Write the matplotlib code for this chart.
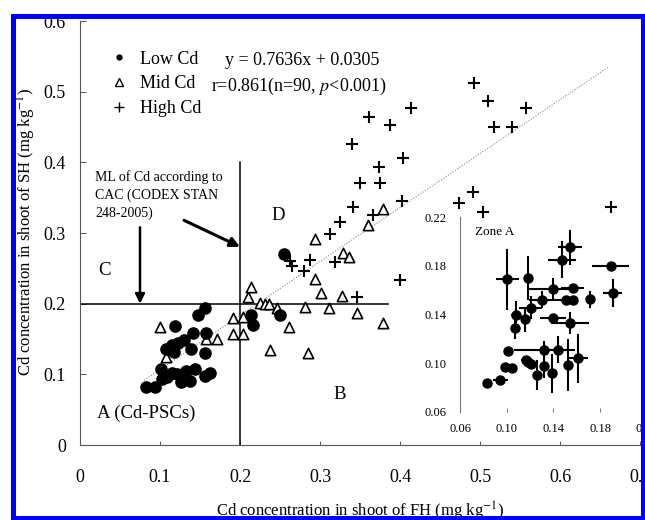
import matplotlib
matplotlib.use("Agg")
import matplotlib.pyplot as plt
from matplotlib.lines import Line2D
from matplotlib.patches import Rectangle

plt.rcParams["font.family"] = ["Liberation Serif", "DejaVu Serif"]
plt.rcParams["mathtext.fontset"] = "stix"

# ── data (mg kg-1) ─────────────────────────────────────────────────────────────
low_x = [0.0825, 0.0938, 0.102, 0.101, 0.1146, 0.1208, 0.1258, 0.1325, 0.1375,
         0.1438, 0.1563, 0.1625, 0.109, 0.1075, 0.1146, 0.118, 0.123, 0.1304,
         0.1388, 0.1408, 0.1563, 0.1575, 0.1188, 0.148, 0.1563, 0.2138, 0.2167,
         0.25, 0.255]
low_y = [0.0816, 0.0816, 0.0929, 0.1075, 0.1023, 0.1004, 0.0896, 0.1051, 0.091,
         0.1075, 0.0976, 0.1023, 0.096, 0.1353, 0.1414, 0.132, 0.1447, 0.1485,
         0.1358, 0.1589, 0.1306, 0.158, 0.1683, 0.1839, 0.1933, 0.1839, 0.1697,
         0.1839, 0.2702]

mid_x = [0.1, 0.1075, 0.1575, 0.1717, 0.1908, 0.1917, 0.2033, 0.2042, 0.2096,
         0.2133, 0.225, 0.2313, 0.2367, 0.2458, 0.2617, 0.2375, 0.2817, 0.2854,
         0.294, 0.2938, 0.3008, 0.3117, 0.327, 0.329, 0.3367, 0.3467, 0.3604,
         0.379, 0.379]
mid_y = [0.1673, 0.1249, 0.150, 0.150, 0.1792, 0.1566, 0.157, 0.1815, 0.2089,
         0.223, 0.2004, 0.2, 0.2, 0.1933, 0.1665, 0.1344, 0.1947, 0.1297,
         0.2343, 0.291, 0.2145, 0.1933, 0.2107, 0.272, 0.2655, 0.1862, 0.3112,
         0.3333, 0.1721]

high_x = [0.3417, 0.3667, 0.325, 0.3125, 0.2875, 0.2646, 0.28, 0.3188, 0.3458,
          0.2625, 0.3617, 0.3875, 0.3396, 0.3742, 0.35, 0.375, 0.4925, 0.5104,
          0.557, 0.518, 0.5404, 0.4133, 0.4042, 0.402, 0.4742, 0.4917, 0.5042,
          0.6638, 0.40]
high_y = [0.337, 0.3253, 0.3158, 0.2984, 0.2617, 0.2532, 0.2466, 0.2593, 0.2089,
          0.2609, 0.4635, 0.4526, 0.4257, 0.3937, 0.371, 0.371, 0.5116, 0.4866,
          0.4762, 0.4503, 0.4503, 0.4762, 0.4055, 0.3451, 0.3418, 0.3574, 0.33,
          0.3371, 0.233]

# zone A inset: means with SD
zone_x = [0.0829, 0.0943, 0.0986, 0.1043, 0.1014, 0.1165, 0.1185, 0.1206, 0.1257,
          0.1322, 0.132, 0.1385, 0.1442, 0.1528, 0.1613, 0.107, 0.108, 0.1157,
          0.1206, 0.1305, 0.1394, 0.1565, 0.151, 0.1565, 0.1714, 0.1394, 0.1542,
          0.1005, 0.1185, 0.147, 0.1542, 0.189, 0.1908]
zone_y = [0.0841, 0.0863, 0.0967, 0.0959, 0.110, 0.1027, 0.1013, 0.0994, 0.0904,
          0.111, 0.0978, 0.0918, 0.111, 0.0986, 0.104, 0.1287, 0.1397, 0.136,
          0.1457, 0.152, 0.1608, 0.1616, 0.152, 0.152, 0.1526, 0.137, 0.1334,
          0.169, 0.170, 0.185, 0.195, 0.18, 0.1575]
zone_xerr = [0.002, 0.0064, 0.002, 0.002, 0.002, 0.004, 0.002, 0.002, 0.003,
             0.026, 0.002, 0.002, 0.008, 0.003, 0.008, 0.002, 0.004, 0.002,
             0.01, 0.011, 0.02, 0.01, 0.01, 0.003, 0.002, 0.011, 0.016,
             0.01, 0.003, 0.012, 0.01, 0.016, 0.008]
zone_yerr = [0.0, 0.0, 0.0, 0.0, 0.0, 0.003, 0.002, 0.002, 0.012,
             0.0075, 0.01, 0.016, 0.011, 0.021, 0.02, 0.009, 0.011, 0.01,
             0.0095, 0.007, 0.009, 0.003, 0.003, 0.003, 0.007, 0.003, 0.009,
             0.025, 0.018, 0.015, 0.0145, 0.002, 0.0115]

SLOPE, INTERCEPT = 0.7636, 0.0305
FIT_X = [0.08, 0.66]
ML = 0.2

main_ticks = [0, 0.1, 0.2, 0.3, 0.4, 0.5, 0.6, 0.7]
main_yticks = [0, 0.1, 0.2, 0.3, 0.4, 0.5, 0.6]
zone_ticks = [0.06, 0.10, 0.14, 0.18, 0.22]

# ── figure ─────────────────────────────────────────────────────────────────────
fig = plt.figure(figsize=(6.45, 5.2), dpi=100)
ax = fig.add_axes([80 / 645, 75 / 520, 560 / 645, 424 / 520])
ax.set_xlim(0, 0.7)
ax.set_ylim(0, 0.6)
for s in ("top", "right"):
    ax.spines[s].set_visible(False)
for s in ("left", "bottom"):
    ax.spines[s].set_color("#555555")
    ax.spines[s].set_linewidth(0.8)
ax.set_xticks(main_ticks)
ax.set_xticklabels(["0" if t == 0 else f"{t:.1f}" for t in main_ticks])
ax.set_yticks(main_yticks)
ax.set_yticklabels(["0" if t == 0 else f"{t:.1f}" for t in main_yticks])
ax.tick_params(axis="x", direction="in", length=3, width=0.7, color="#555555",
               labelsize=13, pad=17)
ax.tick_params(axis="y", direction="in", length=4, width=0.7, color="#555555",
               labelsize=13, pad=10)

# quadrant lines (ML of Cd)
ax.plot([0, 0.385], [ML, ML], color="k", lw=1.1, zorder=2)
ax.plot([ML, ML], [0, 0.4], color="k", lw=1.1, zorder=2)

# regression line
ax.plot(FIT_X, [SLOPE * x + INTERCEPT for x in FIT_X], color="#888888",
        lw=0.8, ls=(0, (1, 1.5)), zorder=2)

ax.scatter(low_x, low_y, s=65, marker="o", color="k", zorder=4)
ax.scatter(mid_x, mid_y, s=55, marker="^", facecolor="white", edgecolor="k",
           linewidth=1.2, zorder=3)
ax.scatter(high_x, high_y, s=80, marker="+", color="k", linewidth=1.5, zorder=3)

# legend
handles = [Line2D([], [], ls="", marker="o", ms=3.5, color="k"),
           Line2D([], [], ls="", marker="^", ms=6, mfc="white", mec="k", mew=1),
           Line2D([], [], ls="", marker="+", ms=7, color="k", mew=1)]
ax.legend(handles, ["Low Cd", "Mid Cd", "High Cd"], loc="upper left",
          bbox_to_anchor=(0.0536, 0.93), frameon=False, fontsize=13,
          handlelength=1.0, handletextpad=0.65, labelspacing=0.42,
          borderpad=0, borderaxespad=0)

ax.text(0.278, 0.5446, "y = 0.7636x + 0.0305", fontsize=13, ha="center",
        va="center")
ax.text(0.273, 0.5068, "r=0.861(n=90, $p$<0.001)", fontsize=13, ha="center",
        va="center")

ax.text(0.019, 0.354, "ML of Cd according to\nCAC (CODEX STAN\n248-2005)",
        fontsize=10, ha="left", va="center", linespacing=1.45)
ax.annotate("", xy=(ML, 0.2805), xytext=(0.13, 0.318),
            arrowprops=dict(arrowstyle="-|>", lw=2.2, color="k",
                            mutation_scale=14, shrinkA=0, shrinkB=0))
ax.annotate("", xy=(0.075, ML), xytext=(0.075, 0.308),
            arrowprops=dict(arrowstyle="-|>", lw=1.8, color="k",
                            mutation_scale=14, shrinkA=0, shrinkB=0))

ax.text(0.031, 0.2475, "C", fontsize=13.5, ha="center", va="center")
ax.text(0.248, 0.325, "D", fontsize=13.5, ha="center", va="center")
ax.text(0.325, 0.072, "B", fontsize=13.5, ha="center", va="center")
ax.text(0.021, 0.045, "A (Cd-PSCs)", fontsize=13.5, ha="left", va="center")

fig.text(26 / 645, 1 - 232 / 520, "Cd concentration in shoot of SH (mg kg$^{-1}$)",
         rotation=90, fontsize=12, ha="center", va="center")
fig.text(360 / 645, 1 - 511 / 520, "Cd concentration in shoot of FH (mg kg$^{-1}$)",
         fontsize=12, ha="center", va="center")

# ── inset: zone A ──────────────────────────────────────────────────────────────
ins = fig.add_axes([460 / 645, 108 / 520, 186.8 / 645, 195 / 520])
ins.patch.set_visible(False)
ins.set_xlim(0.06, 0.22)
ins.set_ylim(0.06, 0.22)
for s in ("top", "right", "bottom"):
    ins.spines[s].set_visible(False)
ins.spines["left"].set_color("#777777")
ins.spines["left"].set_linewidth(0.8)
ins.set_xticks(zone_ticks)
ins.set_xticklabels([f"{t:.2f}" for t in zone_ticks])
ins.set_yticks(zone_ticks)
ins.set_yticklabels([f"{t:.2f}" for t in zone_ticks])
ins.tick_params(axis="x", direction="in", length=3, width=0.7, color="#777777",
                labelsize=9, pad=8)
ins.tick_params(axis="y", length=0, labelsize=9, pad=10)
ins.errorbar(zone_x, zone_y, xerr=zone_xerr, yerr=zone_yerr, fmt="o", ms=6.5,
             color="k", ecolor="k", elinewidth=1.5, capsize=0)
ins.text(0.0729, 0.2078, "Zone A", fontsize=9.5, ha="left", va="center")

# blue frame of the screenshot
fig.add_artist(Rectangle((12.5 / 645, 2.5 / 520), 630 / 645, 502 / 520,
                         transform=fig.transFigure, fill=False,
                         edgecolor="#0000ff", lw=3.6, zorder=10))

fig.savefig("out.png", dpi=100)
